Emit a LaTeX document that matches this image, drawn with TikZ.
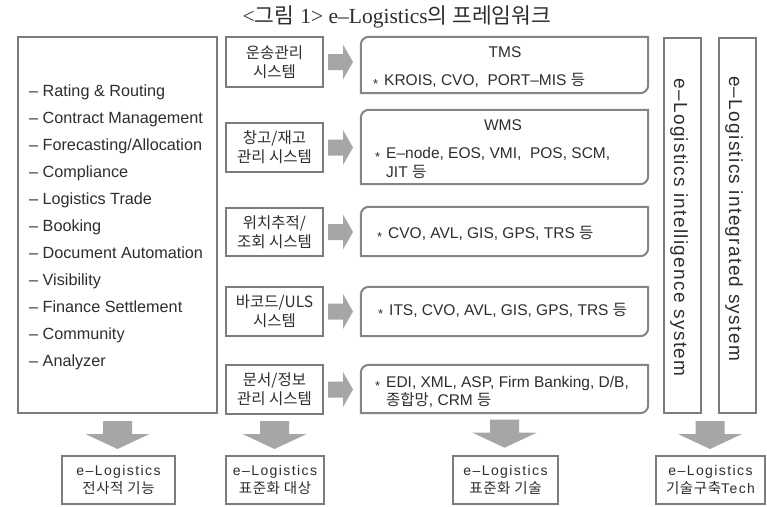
\documentclass[tikz,border=0pt]{standalone}
\usepackage{fontspec}
\setmainfont{Liberation Sans}
\newfontfamily\kr{Noto Sans CJK KR}
\newfontfamily\krw[LetterSpace=4]{Noto Sans CJK KR}
\newfontfamily\wide[LetterSpace=10]{Liberation Sans}
\newfontfamily\vwide[LetterSpace=7]{Liberation Sans}
\newfontfamily\tser{Liberation Serif}
\usetikzlibrary{calc}
\definecolor{bord}{HTML}{7C7C7C}
\definecolor{rbord}{HTML}{858585}
\definecolor{txt}{HTML}{2E2E2E}
\definecolor{arrf}{HTML}{A6A6A6}
\newcommand\K[1]{{\kr #1}}
\newcommand\st{\makebox[11pt][l]{\raisebox{-3.3pt}{\fontsize{13}{13}\selectfont *}}}
\newcommand\rtarrow[1]{\fill[arr] ($(#1)+(4,8)$) -- ++(15,0) -- ++(0,9.5) -- ++(10,-17.5) -- ++(-10,-17.5) -- ++(0,9.5) -- ++(-15,0) -- cycle;}
\newcommand\dnarrow[1]{\fill[arr] ($(#1)+(-14.5,0)$) -- ++(29,0) -- ++(0,-13) -- ++(17.5,0) -- ++(-32,-15) -- ++(-32,15) -- ++(17.5,0) -- cycle;}
\tikzset{
  box/.style={draw=bord, line width=2pt, inner sep=0pt, text=txt},
  rbox/.style={inner sep=0pt},
  rline/.style={draw=rbord, line width=2pt},
  arr/.style={fill=arrf},
  item/.style={anchor=base west, inner sep=0pt, text=txt, font=\fontsize{16.2}{19}\selectfont},
  mid/.style={box, minimum width=97pt, align=center, font=\kr\fontsize{15.5}{19}\selectfont},
  rt/.style={inner sep=0pt, text=txt, font=\fontsize{15.5}{19}\selectfont},
  vt/.style={rotate=-90, inner sep=0pt, text=txt, font=\vwide\fontsize{19}{20}\selectfont},
  bot/.style={box, minimum height=48pt, align=center, font=\fontsize{14}{18}\selectfont}
}
\begin{document}
\begin{tikzpicture}[x=1pt,y=1pt]
\useasboundingbox (0,0) rectangle (767,-506);
\fill[white] (0,0) rectangle (767,-506);

% title
\node[text=txt, inner sep=0pt, font=\fontsize{21.5}{24}\selectfont] (title) at (397,-17)
  {{\tser <}\K{그림} {\tser 1> e–Logistics}\K{의 프레임워크}};

% left box with list
\node[box, minimum width=199pt, minimum height=376pt] (L) at (117.5,-225) {};
\foreach \t [count=\i] in {Rating \& Routing, Contract Management, Forecasting/Allocation,
  Compliance, Logistics Trade, Booking, Document Automation, Visibility,
  Finance Settlement, Community, Analyzer}
  \node[item] (it\i) at (29,{-96.9-27*(\i-1)}) {–\ \t};

% middle boxes
\node[mid, minimum height=50pt] (m1) at (274.5,-62) {운송관리\\시스템};
\node[mid, minimum height=49pt] (m2) at (274.5,-147.5) {창고/재고\\관리 시스템};
\node[mid, minimum height=48pt] (m3) at (274.5,-232) {위치추적/\\조회 시스템};
\node[mid, minimum height=49pt] (m4) at (274.5,-311.5) {바코드/ULS\\시스템};
\node[mid, minimum height=49pt] (m5) at (274.5,-389.5) {문서/정보\\관리 시스템};

% right rounded boxes
\node[rbox, minimum width=287pt, minimum height=56pt] (r1) at (504.5,-65) {};
\node[rbox, minimum width=287pt, minimum height=74pt] (r2) at (504.5,-147) {};
\node[rbox, minimum width=287pt, minimum height=49pt] (r3) at (504.5,-231.5) {};
\node[rbox, minimum width=287pt, minimum height=49pt] (r4) at (504.5,-311.5) {};
\node[rbox, minimum width=287pt, minimum height=48pt] (r5) at (504.5,-389) {};
\foreach \i in {1,...,5}{
  \draw[rline] (r\i.south west) -- ([yshift=-8pt]r\i.north west)
    arc[start angle=180,end angle=90,radius=8pt] -- (r\i.north east)
    -- ([yshift=8pt]r\i.south east) arc[start angle=0,end angle=-90,radius=8pt] -- cycle;
  \rtarrow{m\i.east}
}

% texts in rounded boxes
\node[rt, anchor=base] (t1a) at (505,-57.5) {TMS};
\node[rt, anchor=base west] (t1b) at (373,-85.5) {\st KROIS, CVO,\ \ PORT–MIS \K{등}};
\node[rt, anchor=base] (t2a) at (503,-130.5) {WMS};
\node[rt, anchor=base west] (t2b) at (375,-158.5) {\st E–node, EOS, VMI,\ \ POS, SCM,};
\node[rt, anchor=base west] (t2c) at (386,-177.5) {JIT \K{등}};
\node[rt, anchor=base west] (t3) at (377,-238.5) {\st CVO, AVL, GIS, GPS, TRS \K{등}};
\node[rt, anchor=base west] (t4) at (378,-315.5) {\st ITS, CVO, AVL, GIS, GPS, TRS \K{등}};
\node[rt, anchor=base west] (t5a) at (375,-387.5) {\st EDI, XML, ASP, Firm Banking, D/B,};
\node[rt, anchor=base west] (t5b) at (386,-405.5) {\K{종합망}, CRM \K{등}};

% vertical boxes
\node[box, minimum width=37pt, minimum height=375pt] (v1) at (682.5,-225.5) {};
\node[box, minimum width=37pt, minimum height=375pt] (v2) at (737.5,-225.5) {};
\node[vt] (vt1) at (679,-227.5) {e–Logistics intelligence system};
\node[vt] (vt2) at (734,-218.5) {e–Logistics integrated system};

% down arrows
\coordinate (d1) at ($(L.south)+(0,-7)$);
\coordinate (d2) at ($(m5.south)+(0,-6)$);
\coordinate (d3) at ($(r5.south)+(0,-6.5)$);
\coordinate (d4) at ($(v1.south)!0.5!(v2.south)+(0,-7)$);
\dnarrow{d1}
\dnarrow{d2}
\dnarrow{d3}
\dnarrow{d4}

% bottom boxes
\node[bot, minimum width=113pt] (b1) at (118.5,-480) {{\wide e–Logistics}\\{\krw\fontsize{14.5}{18}\selectfont 전사적 기능}};
\node[bot, minimum width=98pt] (b2) at (275,-480) {{\wide e–Logistics}\\{\krw\fontsize{14.5}{18}\selectfont 표준화 대상}};
\node[bot, minimum width=105pt] (b3) at (505.5,-480) {{\wide e–Logistics}\\{\krw\fontsize{14.5}{18}\selectfont 표준화 기술}};
\node[bot, minimum width=109pt] (b4) at (710.5,-480) {{\wide e–Logistics}\\{\krw\fontsize{14.5}{18}\selectfont 기술구축}{\wide Tech}};
\end{tikzpicture}
\end{document}
